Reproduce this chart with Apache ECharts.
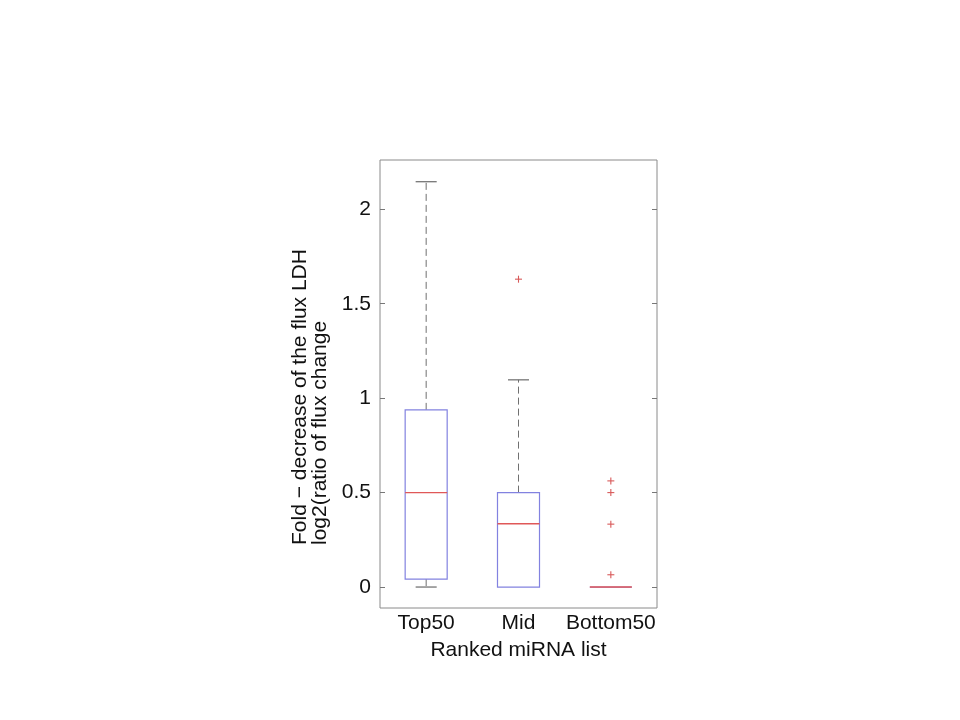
<!DOCTYPE html>
<html>
<head>
<meta charset="utf-8">
<script src="https://cdn.jsdelivr.net/npm/echarts@6/dist/echarts.min.js"></script>
<style>html,body{margin:0;padding:0;background:#fff;}#c{width:960px;height:720px;}</style>
</head>
<body>
<div id="c"></div>
<script>
var categories = ['Top50', 'Mid', 'Bottom50'];
var whiskerLow = [0, 0, 0];
var quartile1 = [0.042, 0, 0];
var medians = [0.5, 0.335, 0];
var quartile3 = [0.938, 0.5, 0];
var whiskerHigh = [2.146, 1.097, 0];
var outlierCategory = [1, 2, 2, 2, 2];
var outlierValue = [1.63, 0.562, 0.5, 0.333, 0.065];
var yTickValues = [0, 0.5, 1, 1.5, 2];

var boxData = categories.map(function (c, i) {
  return [i, whiskerLow[i], quartile1[i], medians[i], quartile3[i], whiskerHigh[i]];
});
var outlierData = outlierValue.map(function (v, i) { return [outlierCategory[i], v]; });

var chart = echarts.init(document.getElementById('c'));
var font = 'Liberation Sans, Arial, sans-serif';

function renderBox(params, api) {
  var idx = api.value(0);
  var band = api.size([1, 0])[0];
  var bw = band * 0.455, cw = band * 0.228;
  var pLow = api.coord([idx, api.value(1)]);
  var pQ1 = api.coord([idx, api.value(2)]);
  var pMed = api.coord([idx, api.value(3)]);
  var pQ3 = api.coord([idx, api.value(4)]);
  var pHigh = api.coord([idx, api.value(5)]);
  var x = pMed[0];
  var children = [];
  var whiskerStyle = { stroke: '#707070', lineWidth: 1, lineDash: [7, 4] };
  var capStyle = { stroke: '#6a6a6a', lineWidth: 1.2 };
  if (pHigh[1] < pQ3[1] - 0.5) {
    children.push({ type: 'line', shape: { x1: x, y1: pQ3[1], x2: x, y2: pHigh[1] }, style: whiskerStyle });
    children.push({ type: 'line', shape: { x1: x - cw / 2, y1: pHigh[1], x2: x + cw / 2, y2: pHigh[1] }, style: capStyle });
  }
  if (pLow[1] > pQ1[1] + 0.5) {
    children.push({ type: 'line', shape: { x1: x, y1: pQ1[1], x2: x, y2: pLow[1] }, style: whiskerStyle });
    children.push({ type: 'line', shape: { x1: x - cw / 2, y1: pLow[1], x2: x + cw / 2, y2: pLow[1] }, style: capStyle });
  }
  children.push({ type: 'rect', shape: { x: x - bw / 2, y: pQ3[1], width: bw, height: pQ1[1] - pQ3[1] },
    style: { fill: 'none', stroke: '#8282e0', lineWidth: 1.2 } });
  children.push({ type: 'line', shape: { x1: x - bw / 2, y1: pMed[1], x2: x + bw / 2, y2: pMed[1] },
    style: { stroke: '#e05858', lineWidth: 1.4 } });
  return { type: 'group', children: children };
}

function renderPlus(params, api) {
  var p = api.coord([api.value(0), api.value(1)]);
  var h = 3.5;
  var st = { stroke: '#d85a5a', lineWidth: 1.1 };
  return { type: 'group', children: [
    { type: 'line', shape: { x1: p[0] - h, y1: p[1], x2: p[0] + h, y2: p[1] }, style: st },
    { type: 'line', shape: { x1: p[0], y1: p[1] - h, x2: p[0], y2: p[1] + h }, style: st }
  ] };
}

var option = {
  backgroundColor: '#fff',
  animation: false,
  grid: { left: 380, top: 160, width: 277, height: 448, show: true, borderColor: '#8a8a8a', borderWidth: 1, containLabel: false },
  xAxis: {
    type: 'category', data: categories, boundaryGap: true,
    axisLine: { show: false }, axisTick: { show: false }, splitLine: { show: false },
    axisLabel: { interval: 0, hideOverlap: false, fontFamily: font, fontSize: 21, color: '#111', margin: 5 },
    name: 'Ranked miRNA list', nameLocation: 'middle', nameGap: 32,
    nameTextStyle: { fontFamily: font, fontSize: 21, color: '#111' }
  },
  yAxis: [{
    type: 'value', min: -0.111, max: 2.261, position: 'left',
    axisLine: { show: false }, splitLine: { show: false },
    axisTick: { show: true, inside: true, length: 5, lineStyle: { color: '#777' }, customValues: yTickValues },
    axisLabel: { fontFamily: font, fontSize: 21, color: '#111', margin: 9, customValues: yTickValues }
  }, {
    type: 'value', min: -0.111, max: 2.261, position: 'right',
    axisLine: { show: false }, splitLine: { show: false },
    axisTick: { show: true, inside: true, length: 5, lineStyle: { color: '#777' }, customValues: yTickValues },
    axisLabel: { show: false, customValues: yTickValues }
  }],
  graphic: [{
    type: 'text', x: 310, y: 545, rotation: Math.PI / 2,
    style: { text: 'Fold \u2212 decrease of the flux LDH\nlog2(ratio of flux change', fontFamily: font, fontSize: 21,
      fill: '#111', align: 'left', verticalAlign: 'middle', lineHeight: 20 }
  }],
  series: [{
    type: 'custom', renderItem: renderBox, data: boxData, encode: { x: 0, y: [1, 2, 3, 4, 5] }, z: 3
  }, {
    type: 'custom', renderItem: renderPlus, data: outlierData, encode: { x: 0, y: 1 }, z: 4
  }]
};
chart.setOption(option);
</script>
</body>
</html>
